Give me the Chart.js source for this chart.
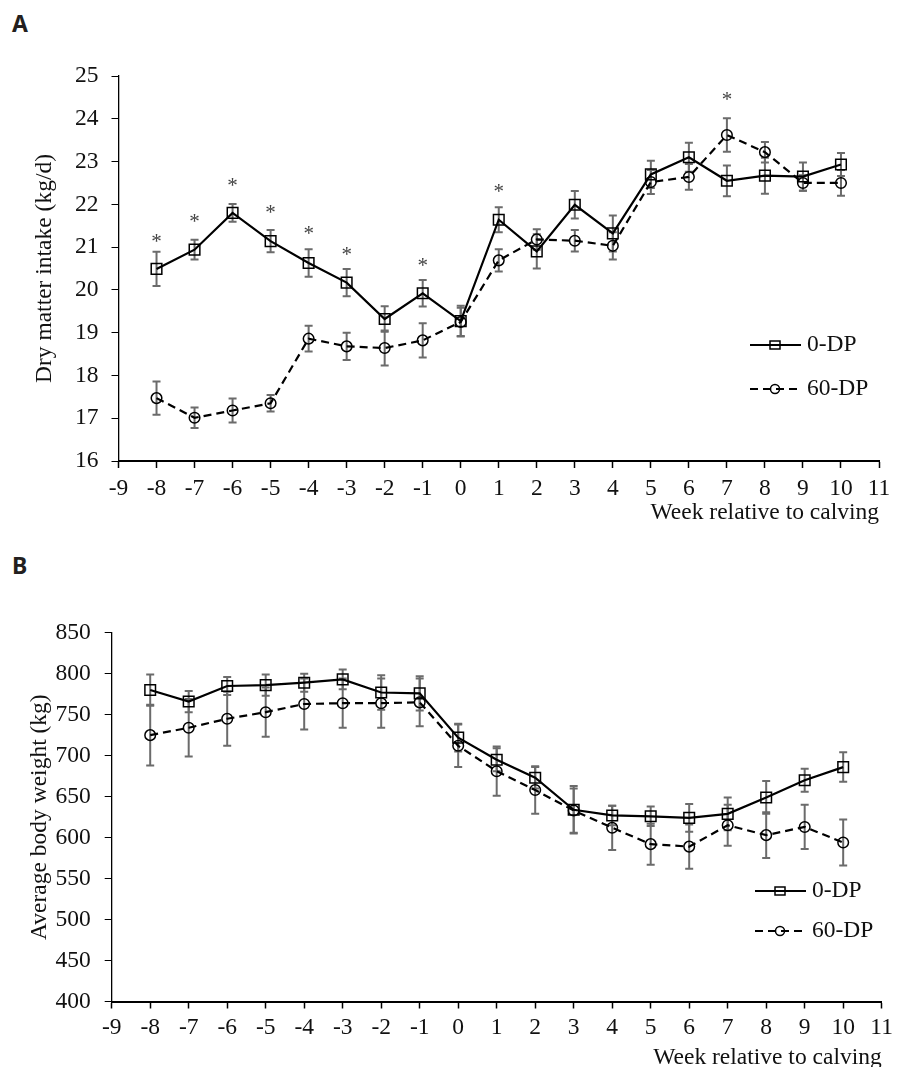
<!DOCTYPE html>
<html lang="en">
<head>
  <meta charset="UTF-8" />
  <title>Dry matter intake and body weight</title>
  <style>
    body {
      margin: 0;
      background: #fff;
      width: 898px;
      height: 1067px;
      overflow: hidden;
      position: relative;
    }
    .panel-label {
      position: absolute;
      left: 12px;
      font-family: 'Noto Sans', sans-serif;
      font-weight: 700;
      font-size: 23px;
      color: #231f20;
      line-height: 1;
    }
    canvas {
      position: absolute;
      left: 0;
    }
  </style>
</head>
<body>
  <div class="panel-label" style="top: 12px;">A</div>
  <div class="panel-label" style="top: 554px;">B</div>
  <canvas id="chartA" width="898" height="540" style="top: 0px;"></canvas>
  <canvas id="chartB" width="898" height="540" style="top: 545px;"></canvas>

  <script src="https://cdn.jsdelivr.net/npm/chart.js"></script>
  <script>
    // weeks relative to calving
    const weeks = [-8, -7, -6, -5, -4, -3, -2, -1, 0, 1, 2, 3, 4, 5, 6, 7, 8, 9, 10];

    // A: dry matter intake (kg/d), mean and SE
    const dmi0 = [20.49, 20.94, 21.80, 21.14, 20.63, 20.17, 19.32, 19.92, 19.27, 21.64, 20.90, 21.99, 21.32, 22.70, 23.10, 22.55, 22.67, 22.65, 22.93];
    const dmi0Err = [0.40, 0.23, 0.21, 0.26, 0.32, 0.32, 0.30, 0.31, 0.36, 0.29, 0.40, 0.32, 0.42, 0.32, 0.34, 0.36, 0.42, 0.33, 0.27];
    const dmi60 = [17.47, 17.01, 17.18, 17.35, 18.86, 18.68, 18.64, 18.82, 19.25, 20.69, 21.18, 21.15, 21.03, 22.52, 22.64, 23.62, 23.22, 22.50, 22.50];
    const dmi60Err = [0.39, 0.24, 0.28, 0.19, 0.30, 0.32, 0.41, 0.40, 0.33, 0.26, 0.24, 0.25, 0.32, 0.28, 0.30, 0.39, 0.24, 0.18, 0.30];

    // significance marks on panel A
    const starWeeks = [-8, -7, -6, -5, -4, -3, -1, 1, 7];
    const starLevels = [21.20, 21.67, 22.51, 21.88, 21.39, 20.90, 20.65, 22.38, 24.53];

    // B: average body weight (kg), mean and SE
    const bw0 = [780, 766, 785, 786, 789, 793, 777, 776, 722, 695, 673, 634, 627, 626, 624, 629, 649, 670, 686];
    const bw0Err = [19, 13, 11, 13, 11, 12, 21, 21, 17, 14, 13, 29, 12, 12, 17, 20, 20, 14, 18];
    const bw60 = [725, 734, 745, 753, 763, 764, 764, 765, 712, 681, 658, 633, 612, 592, 589, 615, 603, 613, 594];
    const bw60Err = [37, 35, 33, 30, 31, 30, 30, 29, 26, 30, 29, 27, 27, 25, 27, 25, 28, 27, 28];

    const seriesNames = ['0-DP', '60-DP'];
    const serif = "'Liberation Serif', 'Times New Roman', serif";
    const fontSize = 23.5;

    const toPoints = (vals) => weeks.map((w, i) => ({ x: w, y: vals[i] }));

    // error bars, drawn through the chart scales
    const errorBars = {
      id: 'errorBars',
      beforeDatasetsDraw(chart, args, opts) {
        const { ctx, scales: { x, y } } = chart;
        ctx.save();
        ctx.strokeStyle = '#6b6b6b';
        ctx.lineWidth = 2;
        opts.errors.forEach((errs, d) => {
          const vals = chart.data.datasets[d].data;
          vals.forEach((p, i) => {
            const px = x.getPixelForValue(p.x);
            const top = y.getPixelForValue(p.y + errs[i]);
            const bot = y.getPixelForValue(p.y - errs[i]);
            ctx.beginPath();
            ctx.moveTo(px, top); ctx.lineTo(px, bot);
            ctx.moveTo(px - 4, top); ctx.lineTo(px + 4, top);
            ctx.moveTo(px - 4, bot); ctx.lineTo(px + 4, bot);
            ctx.stroke();
          });
        });
        ctx.restore();
      }
    };

    // asterisks for significant weeks
    const stars = {
      id: 'stars',
      afterDatasetsDraw(chart, args, opts) {
        if (!opts.weeks) return;
        const { ctx, scales: { x, y } } = chart;
        ctx.save();
        ctx.fillStyle = '#444';
        ctx.font = '21px ' + serif;
        ctx.textAlign = 'center';
        ctx.textBaseline = 'middle';
        opts.weeks.forEach((w, i) => {
          ctx.fillText('*', x.getPixelForValue(w), y.getPixelForValue(opts.levels[i]) + 4);
        });
        ctx.restore();
      }
    };

    // legend box inside the plot
    const sideLegend = {
      id: 'sideLegend',
      afterDraw(chart, args, opts) {
        const { ctx } = chart;
        ctx.save();
        chart.data.datasets.forEach((ds, i) => {
          const y = opts.rows[i];
          const x0 = opts.x, x1 = opts.x + 51, mx = opts.x + 25;
          ctx.strokeStyle = '#000';
          ctx.lineWidth = 2;
          ctx.setLineDash(ds.borderDash || []);
          ctx.beginPath();
          ctx.moveTo(x0, y); ctx.lineTo(x1, y);
          ctx.stroke();
          ctx.setLineDash([]);
          ctx.lineWidth = 1.5;
          ctx.fillStyle = '#fff';
          ctx.beginPath();
          if (ds.pointStyle === 'rect') {
            ctx.rect(mx - 5, y - 4, 10, 8);
          } else {
            ctx.arc(mx, y, 4.5, 0, Math.PI * 2);
          }
          ctx.stroke();
          ctx.fillStyle = '#111';
          ctx.font = fontSize + 'px ' + serif;
          ctx.textAlign = 'left';
          ctx.textBaseline = 'middle';
          ctx.fillText(ds.label, opts.x + 57, y);
        });
        ctx.restore();
      }
    };

    function makeChart(id, cfg) {
      const ctx = document.getElementById(id).getContext('2d');
      return new Chart(ctx, {
        type: 'line',
        data: {
          datasets: [{
            label: seriesNames[0],
            data: toPoints(cfg.s0),
            borderColor: '#000',
            borderWidth: 2.2,
            pointStyle: 'rect',
            pointRadius: 7.5,
            pointBorderWidth: 1.5,
            pointBorderColor: '#000',
            pointBackgroundColor: 'rgba(0,0,0,0)',
            tension: 0
          }, {
            label: seriesNames[1],
            data: toPoints(cfg.s1),
            borderColor: '#000',
            borderWidth: 2.2,
            borderDash: [8, 5],
            pointStyle: 'circle',
            pointRadius: 5.3,
            pointBorderWidth: 1.5,
            pointBorderColor: '#000',
            pointBackgroundColor: 'rgba(0,0,0,0)',
            tension: 0
          }]
        },
        options: {
          responsive: false,
          animation: false,
          events: [],
          layout: { padding: { top: cfg.top, right: cfg.right, left: 0, bottom: 0 } },
          scales: {
            x: {
              type: 'linear',
              min: -9,
              max: 11,
              afterFit: s => { s.height = cfg.xHeight; },
              ticks: { stepSize: 1, color: '#111', padding: cfg.xTickPad, font: { family: serif, size: fontSize } },
              grid: { display: true, drawOnChartArea: false, drawTicks: true, tickLength: 7, color: '#000', tickWidth: 1.5 },
              border: { display: true, color: '#000', width: 2 },
              title: {
                display: true,
                text: 'Week relative to calving',
                align: 'end',
                color: '#111',
                font: { family: serif, size: fontSize },
                padding: { top: 0, bottom: cfg.xTitlePad }
              }
            },
            y: {
              min: cfg.yMin,
              max: cfg.yMax,
              afterFit: s => { s.width = cfg.yWidth; },
              ticks: { stepSize: cfg.yStep, color: '#111', padding: cfg.yTickPad, font: { family: serif, size: fontSize } },
              grid: { display: true, drawOnChartArea: false, drawTicks: true, tickLength: 7, color: '#000', tickWidth: 1 },
              border: { display: true, color: '#000', width: 1.3 },
              title: {
                display: true,
                text: cfg.yTitle,
                color: '#111',
                font: { family: serif, size: fontSize },
                padding: { top: cfg.yTitlePad, bottom: 0 }
              }
            }
          },
          plugins: {
            legend: { display: false },
            tooltip: { enabled: false },
            errorBars: { errors: [cfg.e0, cfg.e1] },
            stars: { weeks: cfg.starWeeks, levels: cfg.starLevels },
            sideLegend: { x: cfg.legX, rows: cfg.legRows }
          }
        },
        plugins: [errorBars, stars, sideLegend]
      });
    }

    makeChart('chartA', {
      s0: dmi0, e0: dmi0Err, s1: dmi60, e1: dmi60Err,
      yMin: 16, yMax: 25, yStep: 1,
      yTitle: 'Dry matter intake (kg/d)',
      top: 76, right: 19, xHeight: 79, yWidth: 118.5,
      yTickPad: 13, yTitlePad: 31, xTitlePad: 13, xTickPad: 7,
      starWeeks: starWeeks, starLevels: starLevels,
      legX: 750, legRows: [345, 389]
    });

    makeChart('chartB', {
      s0: bw0, e0: bw0Err, s1: bw60, e1: bw60Err,
      yMin: 400, yMax: 850, yStep: 50,
      yTitle: 'Average body weight (kg)',
      top: 87.7, right: 10.7, xHeight: 83.5, yWidth: 111.7,
      yTickPad: 14, yTitlePad: 26, xTitlePad: 13, xTickPad: 5,
      starWeeks: null, starLevels: null,
      legX: 755, legRows: [346, 386]
    });
  </script>
</body>
</html>
